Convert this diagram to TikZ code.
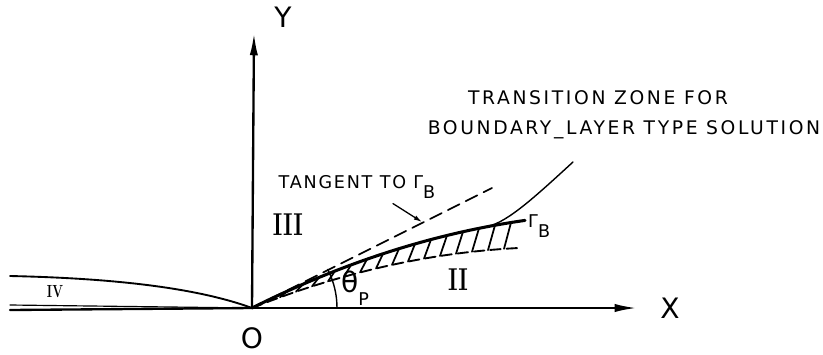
\documentclass[tikz,border=0pt]{standalone}
\usepackage{fontspec}
\usepackage{tikz}
\usetikzlibrary{arrows.meta,positioning}
\newfontfamily\lettering[LetterSpace=10]{DejaVu Sans}
\newfontfamily\widelettering[LetterSpace=14]{DejaVu Sans}
\newfontfamily\plainsans{DejaVu Sans}
\newcommand{\gamB}{Γ\raisebox{-0.55em}{B}}
\newcommand{\zonenum}[1]{\scalebox{0.72}[1]{\bfseries #1}}
\tikzset{
  axis/.style={line width=2pt,-{Latex[length=19pt,width=7pt]}},
  bnd/.style={line width=2.6pt},
  hatch/.style={line width=1.5pt},
  lbl/.style={font=\lettering\fontsize{15}{18}\selectfont,inner sep=0pt},
  widelbl/.style={font=\widelettering\fontsize{16}{19}\selectfont,inner sep=0pt},
  big/.style={font=\plainsans\fontsize{24}{26}\selectfont,inner sep=0pt},
  zone/.style={font=\fontsize{27}{29}\selectfont,inner sep=0pt},
}
\begin{document}
\begin{tikzpicture}[x=0.03cm,y=0.03cm,line cap=round]
\useasboundingbox (-252,-46) rectangle (571,308);
\coordinate (O) at (0,0);
\coordinate (ytip) at (2,275);
\coordinate (xtip) at (385,0);
\coordinate (tanend) at (240,120);
\coordinate (tanpt) at (170,86);
\coordinate (gbjoin) at (236,81.7);
\coordinate (trend) at (321,146);
% axes and plate
\draw[axis] (O) -- (ytip);
\draw[axis] (O) -- (xtip);
\draw[line width=2pt] (-242,-2) -- (O);
\draw[line width=1pt] (-242,3) -- (O);
\draw[line width=1.6pt] (-242,32) .. controls (-150,30) and (-60,22) .. (O);
\node[big] (ylbl) at (31,291) {Y};
\node[big] (xlbl) at (418,0) {X};
\node[big] (olbl) at (0,-30) {O};
% boundary Gamma_B, lower edge and hatching
\draw[bnd] plot[domain=0:273,samples=40] (\x,{0.5*\x-0.000651*\x*\x});
\draw[line width=1.6pt,dash pattern=on 9pt off 5pt] plot[domain=0:266,samples=30] (\x,{0.4*\x-0.00065*\x*\x});
\foreach \u in {28,44,...,252}
  \draw[hatch] (\u,{0.4*\u-0.00065*\u*\u}) -- ({\u+7},{0.5*(\u+7)-0.000651*(\u+7)*(\u+7)});
% tangent and transition line
\draw[line width=1.5pt,dash pattern=on 11pt off 6pt] (O) -- (tanend);
\draw[line width=1.2pt] (gbjoin) .. controls (256,86) and (285,113) .. (trend);
\draw[line width=1.2pt] (85,0) arc[start angle=0,end angle=27,radius=85];
% labels
\node[zone] (r3) at (36,83) {\zonenum{III}};
\node[zone] (r2) at (206,28) {\zonenum{II}};
\node[zone,font=\fontsize{15}{16}\selectfont] (r4) at (-197,16) {\zonenum{IV}};
\node[big,anchor=west] (thlbl) at (89,20) {θ\raisebox{-0.45em}{\fontsize{15}{16}\selectfont P}};
\node[lbl,anchor=west] (gblbl) at (276,82) {\gamB};
\node[lbl] (tanlbl) at (105,121) {TANGENT TO \gamB};
\draw[line width=1.1pt,-{Latex[length=7pt,width=4pt]}] ([xshift=1.08cm,yshift=-0.15cm]tanlbl.south) -- (tanpt);
\node[widelbl] (tz1) at (346,210) {TRANSITION ZONE FOR};
\node[widelbl] (tz2) at (372,178) {BOUNDARY\_LAYER TYPE SOLUTION};
\end{tikzpicture}
\end{document}
